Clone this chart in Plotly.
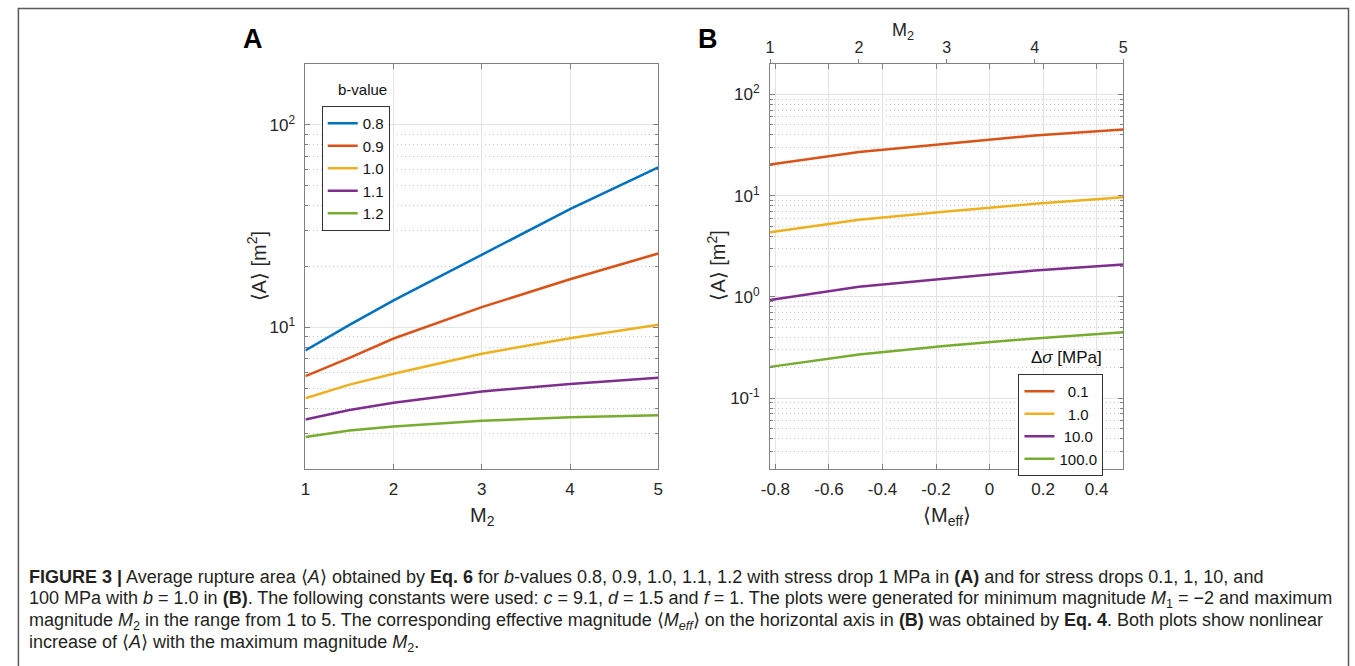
import plotly.graph_objects as go

W, H = 1355, 666
FONT = "Liberation Sans, Arial, Helvetica, sans-serif"


def px(x):
    return x / W


def py(y):
    return 1 - y / H


# ---------------- data ----------------
# Panel A: <A> vs M2 for several b-values (stress drop 1 MPa)
m2_a = [1, 1.5, 2, 3, 4, 5]
b_labels = ["0.8", "0.9", "1.0", "1.1", "1.2"]
area_b08 = [7.7, 10.3, 13.6, 22.9, 38.4, 61.7]
area_b09 = [5.75, 7.08, 8.82, 12.6, 17.3, 23.2]
area_b10 = [4.47, 5.22, 5.91, 7.42, 8.85, 10.3]
area_b11 = [3.51, 3.91, 4.25, 4.83, 5.26, 5.64]
area_b12 = [2.88, 3.10, 3.24, 3.46, 3.60, 3.68]

# Panel B: <A> vs <Meff> (top axis M2) for several stress drops, b = 1.0
m2_b = [1, 2, 3, 4, 5]
meff_b = [-0.820, -0.488, -0.160, 0.169, 0.499]
ds_labels = ["0.1", "1.0", "10.0", "100.0"]
area_ds01 = [20.3, 27.0, 32.6, 39.4, 45.1]
area_ds1 = [4.36, 5.78, 6.98, 8.32, 9.68]
area_ds10 = [0.935, 1.26, 1.52, 1.83, 2.09]
area_ds100 = [0.204, 0.27, 0.33, 0.39, 0.449]

meff_ticks = [-0.8, -0.6, -0.4, -0.2, 0, 0.2, 0.4]
meff_ticktext = ["-0.8", "-0.6", "-0.4", "-0.2", "0", "0.2", "0.4"]

COLORS = ["#0072BD", "#D95319", "#EDB120", "#7E2F8E", "#77AC30"]

# ---------------- figure ----------------
fig = go.Figure()

for lab, ys, c in zip(b_labels, [area_b08, area_b09, area_b10, area_b11, area_b12], COLORS):
    fig.add_trace(go.Scatter(x=m2_a, y=ys, mode="lines", name=lab,
                             line=dict(color=c, width=2.5),
                             xaxis="x", yaxis="y", legend="legend"))

pad = {"0.1": "\u00a0\u00a00.1", "1.0": "\u00a0\u00a01.0", "10.0": "\u00a010.0", "100.0": "100.0"}
for lab, ys, c in zip(ds_labels, [area_ds01, area_ds1, area_ds10, area_ds100], COLORS[1:]):
    fig.add_trace(go.Scatter(x=meff_b, y=ys, mode="lines", name=pad[lab],
                             line=dict(color=c, width=2.5),
                             xaxis="x2", yaxis="y2", legend="legend2"))

# invisible helper trace so the top (M2) axis of panel B is drawn
fig.add_trace(go.Scatter(x=meff_b, y=area_ds01, mode="lines", opacity=0,
                         showlegend=False, hoverinfo="skip",
                         xaxis="x3", yaxis="y2"))

AXC = "#808080"
TICKC = "#262626"
GRID = "#e3e3e3"
MGRID = "#c4c4c4"
TICKSIZE = 17

common_x = dict(showline=True, linecolor=AXC, linewidth=1, mirror="ticks",
                ticks="inside", ticklen=5, tickcolor=AXC,
                showgrid=True, gridcolor=GRID, gridwidth=1, zeroline=False,
                tickfont=dict(family=FONT, size=TICKSIZE, color=TICKC),
                ticklabelstandoff=5)

minor_a = [v * d for d in (1, 10, 100) for v in range(2, 10) if 2 <= v * d <= 200]
minor_b = [v * d for d in (0.01, 0.1, 1, 10, 100) for v in range(2, 10) if 0.02 <= v * d <= 200]

common_y = dict(type="log", showline=True, linecolor=AXC, linewidth=1, mirror="ticks",
                ticks="inside", ticklen=5, tickcolor=AXC,
                showgrid=True, gridcolor=GRID, gridwidth=1, zeroline=False,
                tickfont=dict(family=FONT, size=TICKSIZE, color=TICKC),
                ticklabelstandoff=6)

minor_style = dict(showgrid=True, gridcolor=MGRID, griddash="1px,3px",
                   ticks="inside", ticklen=3, tickcolor=AXC)

xa_dom = [px(299.5), px(656)]
xb_dom = [px(769), px(1126)]
y_dom = [py(469), py(64)]

fig.update_layout(
    width=W, height=H,
    margin=dict(l=0, r=0, t=0, b=0),
    paper_bgcolor="white", plot_bgcolor="white",
    font=dict(family=FONT, color=TICKC),
    showlegend=True,
    xaxis=dict(domain=xa_dom, anchor="y", range=[1, 5],
               tickvals=[1, 2, 3, 4, 5], **common_x),
    yaxis=dict(domain=y_dom, anchor="x", range=[0.30103, 2.30103],
               tickvals=[10, 100], ticktext=["10<sup>1</sup>", "10<sup>2</sup>"],
               minor=dict(tickvals=minor_a, **minor_style),
               **common_y),
    xaxis2=dict(domain=xb_dom, anchor="y2", range=[-0.82, 0.5],
                tickvals=meff_ticks, ticktext=meff_ticktext, **common_x),
    yaxis2=dict(domain=y_dom, anchor="x2", range=[-1.69897, 2.30103],
                tickvals=[0.1, 1, 10, 100],
                ticktext=["10<sup>-1</sup>", "10<sup>0</sup>", "10<sup>1</sup>", "10<sup>2</sup>"],
                minor=dict(tickvals=minor_b, **minor_style),
                **common_y),
    xaxis3=dict(overlaying="x2", anchor="y2", side="top", range=[-0.82, 0.5],
                tickvals=meff_b, ticktext=[str(m) for m in m2_b],
                showgrid=False, zeroline=False, showline=True, linecolor=AXC,
                ticks="outside", ticklen=4, tickcolor=AXC,
                tickfont=dict(family=FONT, size=16, color=TICKC)),
    legend=dict(x=px(316), y=py(106), xanchor="left", yanchor="top",
                bordercolor="#333333", borderwidth=1, bgcolor="white",
                font=dict(family=FONT, size=15, color="#111111"),
                itemwidth=30, tracegroupgap=0),
    legend2=dict(x=px(1020), y=py(374), xanchor="left", yanchor="top",
                 bordercolor="#333333", borderwidth=1, bgcolor="white",
                 font=dict(family=FONT, size=15, color="#111111"),
                 itemwidth=30, tracegroupgap=0),
)

ann = []


def add_text(x, y, text, size, rot=0, xa="center", ya="middle", color=TICKC):
    ann.append(dict(x=px(x), y=py(y), xref="paper", yref="paper", text=text,
                    showarrow=False, xanchor=xa, yanchor=ya, textangle=rot,
                    font=dict(family=FONT, size=size, color=color)))


add_text(247, 39, "<b>A</b>", 27, color="#000000")
add_text(706, 39, "<b>B</b>", 27, color="#000000")
add_text(357, 89, "b-value", 15, color="#111111")
add_text(1069, 357, "Δ<i>σ</i> [MPa]", 17, color="#111111")
add_text(478, 516, "M<sub>2</sub>", 20)
add_text(948, 516, "⟨M<sub>eff</sub>⟩", 20)
add_text(903, 31, "M<sub>2</sub>", 18)
add_text(250, 266, "⟨A⟩ [m<sup>2</sup>]", 20, rot=-90)
add_text(714, 266, "⟨A⟩ [m<sup>2</sup>]", 20, rot=-90)

caption = [
    "<b>FIGURE 3 |</b> Average rupture area ⟨<i>A</i>⟩ obtained by <b>Eq. 6</b> for <i>b</i>-values 0.8, 0.9, 1.0, 1.1, 1.2 with stress drop 1 MPa in <b>(A)</b> and for stress drops 0.1, 1, 10, and",
    "100 MPa with <i>b</i> = 1.0 in <b>(B)</b>. The following constants were used: <i>c</i> = 9.1, <i>d</i> = 1.5 and <i>f</i> = 1. The plots were generated for minimum magnitude <i>M</i><sub>1</sub> = −2 and maximum",
    "magnitude <i>M</i><sub>2</sub> in the range from 1 to 5. The corresponding effective magnitude ⟨<i>M<sub>eff</sub></i>⟩ on the horizontal axis in <b>(B)</b> was obtained by <b>Eq. 4</b>. Both plots show nonlinear",
    "increase of ⟨<i>A</i>⟩ with the maximum magnitude <i>M</i><sub>2</sub>.",
]
for i, line in enumerate(caption):
    add_text(18, 577 + 22 * i, line, 18, xa="left", color="#231f20")

fig.update_layout(annotations=ann)

fig.add_shape(type="rect", xref="paper", yref="paper",
              x0=px(9.5), x1=px(1353.5), y0=py(8.5), y1=py(720),
              line=dict(color="#5a5a5a", width=1.5), fillcolor="rgba(0,0,0,0)",
              layer="above")

fig.write_html("out.html")
